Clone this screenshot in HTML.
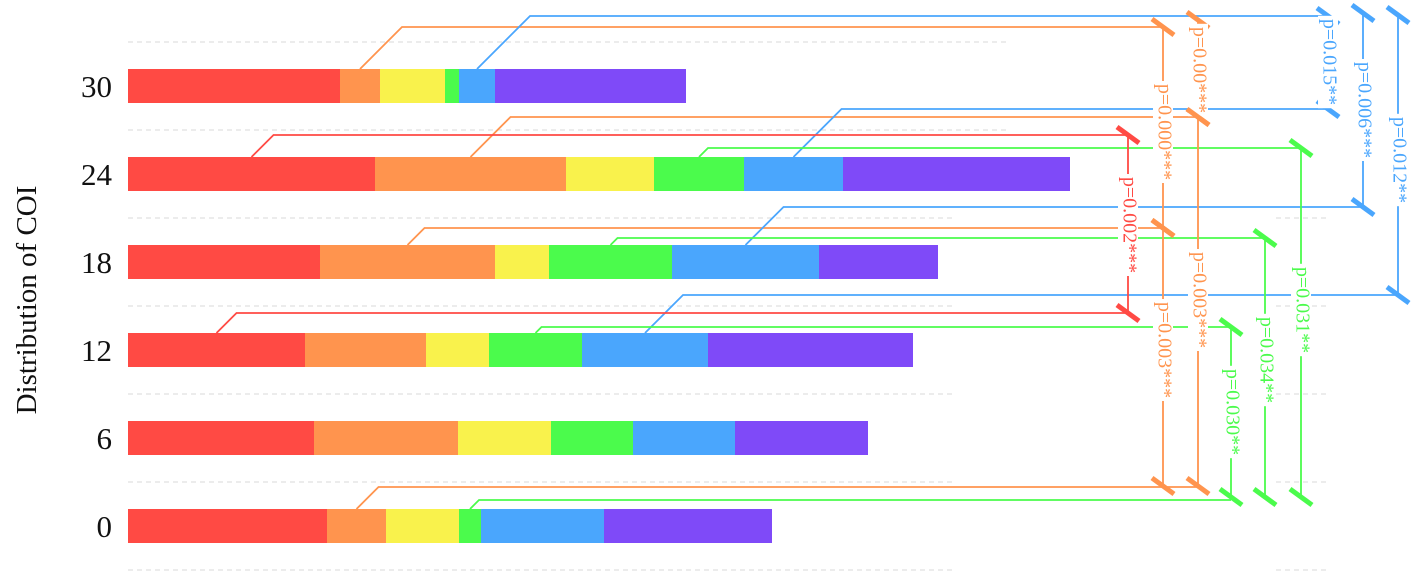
<!DOCTYPE html>
<html><head><meta charset="utf-8"><style>
html,body{margin:0;padding:0;background:#fff;}
svg{display:block;font-family:"Liberation Serif",serif;}
</style></head><body>
<svg id="chart" width="1418" height="579" viewBox="0 0 1418 579" xmlns="http://www.w3.org/2000/svg">
<g id="grid"></g><g id="bars"></g><g id="brk"></g><g id="axis"></g>
</svg>
<script>
const categories = ["30","24","18","12","6","0"];
const segColors = ["#ff4a44","#ff944e","#f9f24c","#4bfb4c","#4aa6fd","#7f4af8"];
const seg0 = [106,123.5,96,88.5,93,99.5];
const seg1 = [20,95.5,87.5,60.5,72,29.5];
const seg2 = [32.5,44,27,31.5,46.5,36.5];
const seg3 = [7,45,61.5,46.5,41,11];
const seg4 = [18,49.5,73.5,63,51,61.5];
const seg5 = [95.5,113.5,59.5,102.5,66.5,84];
const series = [seg0,seg1,seg2,seg3,seg4,seg5];
// brackets: color index, label, row A, row B
const bColor = [1,1,1,1,4,4,4,0,3,3,3];
const bLabel = ["p=0.000***","p=0.003***","p=0.00***","p=0.003***","p=0.015**","p=0.006***","p=0.012**","p=0.002***","p=0.031**","p=0.034**","p=0.030**"];
const bRowA = [0,2,0,1,0,0,0,1,1,2,3];
const bRowB = [5,5,1,5,1,2,3,3,5,5,5];
// layout (pixels): bracket x, top/bottom y
const bX = [1163,1163,1198,1198,1328,1363,1398,1128,1301,1265,1231];
const bY1 = [27,228,20,117,16,13,15,135,148,238,327];
const bY2 = [228,486,117,486,109,207,295,313,497,497,497];
const bLabelY = [132,350,70,300,62,110,160,225,310,360,412];
// connectors: row, segment, y of horizontal, end x
const cRow = [0,2,1,5,0,1,2,3,1,3,1,2,3,5];
const cSeg = [1,1,1,1,4,4,4,4,0,0,3,3,3,3];
const cY = [27,228,117,487,16,109,207,295,135,313,148,238,327,500];
const cEnd = [1163,1163,1198,1198,1328,1328,1363,1398,1128,1128,1301,1265,1231,1231];

const NS="http://www.w3.org/2000/svg";
const X0=128, K=2;
const xScale=v=>X0+v*K;
const yRow=i=>86+i*88;
const BH=34;
function mk(tag,attrs,parent){const e=document.createElementNS(NS,tag);for(const k in attrs)e.setAttribute(k,attrs[k]);parent.appendChild(e);return e;}
const grid=document.getElementById('grid'),bars=document.getElementById('bars'),brk=document.getElementById('brk'),axis=document.getElementById('axis');
for(let i=0;i<=categories.length;i++){
  const y=yRow(i)-44;
  const l=mk('line',{x1:128,x2:i<2?1010:955,y1:y,y2:y,stroke:'#d8d8d8','stroke-dasharray':'5,4','stroke-width':1},grid);
  
  
  if(i>=2){const l2=mk('line',{x1:1276,x2:1330,y1:y,y2:y,stroke:'#d8d8d8','stroke-dasharray':'5,4','stroke-width':1},grid);
  
  }
}
const segStart=[];
categories.forEach((c,i)=>{
  let acc=0;segStart[i]=[];
  series.forEach((s,j)=>{
    segStart[i][j]=[acc,acc+s[i]];
    const r=mk('rect',{x:xScale(acc),y:yRow(i)-BH/2,width:s[i]*K,height:BH,fill:segColors[j]},bars);
    
    
    acc+=s[i];
  });
  const t=mk('text',{x:112,y:yRow(i)+11,'text-anchor':'end','font-size':31,fill:'#111'},axis);
  t.textContent=c;
  
  
});
const yt=mk('text',{x:0,y:0,transform:'translate(36,300) rotate(-90)','text-anchor':'middle','font-size':29,fill:'#111'},axis);
yt.textContent='Distribution of COI';


cRow.forEach((r,k)=>{
  const ci=cSeg[k];
  const se=segStart[r][ci];
  const sx=xScale((se[0]+se[1])/2), sy=yRow(r)-BH/2;
  const rise=sy-cY[k];
  const p=mk('polyline',{points:`${sx},${sy} ${sx+rise},${cY[k]} ${cEnd[k]},${cY[k]}`,fill:'none',stroke:segColors[ci],'stroke-width':1.8},brk);
  
  
});
bX.forEach((x,k)=>{
  const col=segColors[bColor[k]];
  const g=mk('g',{},brk);
  
  
  mk('line',{x1:x,x2:x,y1:bY1[k],y2:bY2[k],stroke:col,'stroke-width':1.8},g);
  [bY1[k],bY2[k]].forEach(y=>mk('line',{x1:x-11,y1:y-8,x2:x+11,y2:y+8,stroke:col,'stroke-width':5},g));
  const len=bLabel[k].length*9.6;
  mk('rect',{x:x-10,y:bLabelY[k]-len/2-3,width:20,height:len+6,fill:'#fff'},g);
  const t=mk('text',{x:0,y:0,transform:`translate(${x},${bLabelY[k]}) rotate(90)`,'text-anchor':'middle','font-size':20,fill:col,'dominant-baseline':'middle'},g);
  t.textContent=bLabel[k];
  
  
});
</script>
</body></html>
